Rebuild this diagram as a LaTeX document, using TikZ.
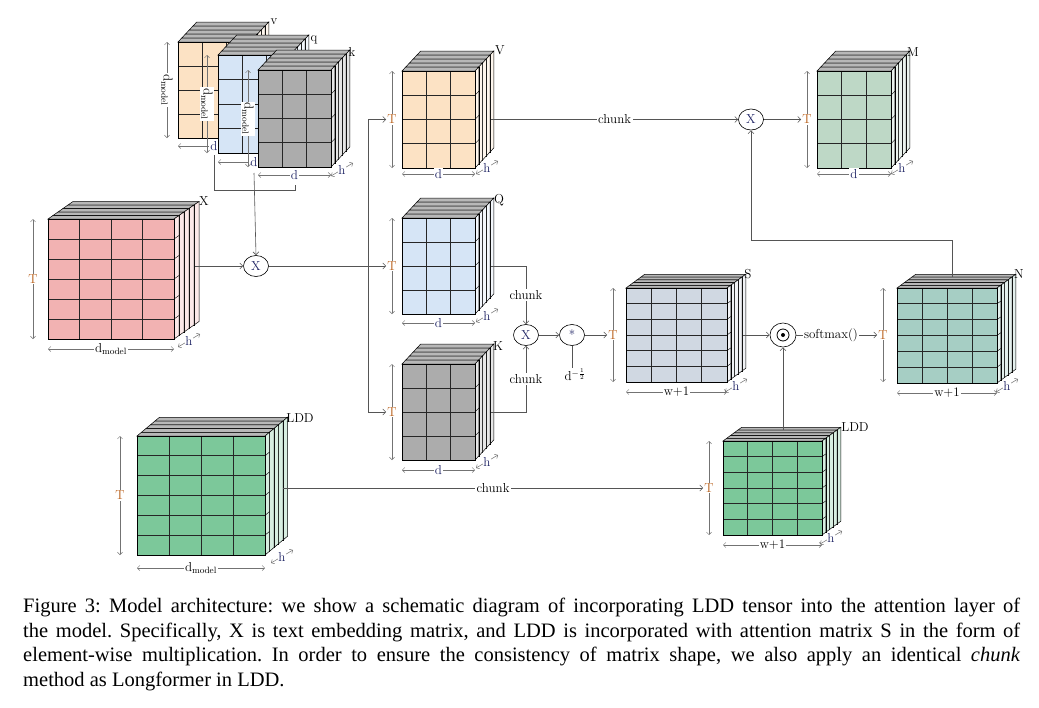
\documentclass[tikz,border=0pt]{standalone}
\usepackage{fontspec}
\newfontfamily\capfont{Liberation Serif}
\usetikzlibrary{arrows.meta,shapes.geometric,calc}
\definecolor{corange}{RGB}{252,226,196}
\definecolor{cblue}{RGB}{214,229,246}
\definecolor{cgray}{RGB}{172,172,172}
\definecolor{cpink}{RGB}{242,178,178}
\definecolor{cS}{RGB}{208,216,226}
\definecolor{cN}{RGB}{166,206,196}
\definecolor{cM}{RGB}{190,216,198}
\definecolor{cL}{RGB}{124,200,154}
\definecolor{cT}{RGB}{185,95,25}
\definecolor{cnavy}{RGB}{30,35,100}
\definecolor{cline}{RGB}{85,85,85}
\newcommand{\tblk}[9]{%
  \pgfmathsetmacro\tbtx{#8/4}%
  \pgfmathsetmacro\tbty{#9/4}%
  \foreach \k in {4,3,2,1,0}{%
    \pgfmathsetmacro\tbsx{#8*\k/4}%
    \pgfmathsetmacro\tbsy{#9*\k/4}%
    \begin{scope}[shift={(\tbsx,\tbsy)}]
      \filldraw[fill=black!28,draw=black,line width=0.5pt] (#1,#2) -- (#3,#2) -- ++(\tbtx,\tbty) -- ++({#1-#3},0) -- cycle;
      \filldraw[fill=#7!30!white,draw=black,line width=0.5pt] (#3,#2) -- (#3,#4) -- ++(\tbtx,\tbty) -- ++(0,{#2-#4}) -- cycle;
      \filldraw[fill=#7,draw=black,line width=0.5pt] (#1,#2) rectangle (#3,#4);
    \end{scope}}%
  \pgfmathsetmacro\tbcw{(#3-#1)/#5}%
  \pgfmathsetmacro\tbrh{(#4-#2)/#6}%
  \pgfmathtruncatemacro\tbnc{#5-1}%
  \pgfmathtruncatemacro\tbnr{#6-1}%
  \foreach \i in {1,...,\tbnc}{\draw[line width=0.8pt,draw=black!85] ({#1+\i*\tbcw},#2) -- ({#1+\i*\tbcw},#4);}%
  \foreach \i in {1,...,\tbnr}{\draw[line width=0.8pt,draw=black!85] (#1,{#2+\i*\tbrh}) -- (#3,{#2+\i*\tbrh});
     \draw[line width=0.4pt] (#3,{#2+\i*\tbrh}) -- ++(\tbtx,\tbty);}%
  \draw[line width=0.8pt] (#1,#2) rectangle (#3,#4);
}
\newcommand{\hdim}[2]{\draw[dimarr] ({#1-12},{#2+6}) -- node[hl]{h} ({#1+10},{#2-7});}
\tikzset{
  dimarr/.style={{Straight Barb[length=2.5pt]}-{Straight Barb[length=2.5pt]},draw=black!55,line width=0.5pt},
  dl/.style={fill=white,inner sep=1pt,font=\fontsize{13}{13}\selectfont},
  hl/.style={fill=white,inner sep=0.3pt,text=cnavy,font=\fontsize{13}{13}\selectfont},
  conn/.style={draw=cline,line width=0.6pt,-{Straight Barb[length=3pt]}},
  plain/.style={draw=cline,line width=0.6pt},
  op/.style={ellipse,draw=black,line width=0.6pt,fill=white,minimum width=25pt,minimum height=21pt,inner sep=0pt,text=cnavy,font=\fontsize{13}{13}\selectfont},
  tl/.style={font=\fontsize{13}{13}\selectfont,inner sep=1pt},
  cl/.style={fill=white,inner sep=1.5pt,font=\fontsize{13}{13}\selectfont}
}
\begin{document}
\begin{tikzpicture}[x=1pt,y=-1pt]
\useasboundingbox (0,0) rectangle (1039,707);
\fill[white] (0,0) rectangle (1039,707);

% v q k stack
\tblk{178}{42}{250}{138}{3}{4}{corange}{15}{-16}
\node[tl] (lv) at (274,22) {v};
\draw[dimarr] (167,42) -- node[dl,rotate=-90,text=black] {d$_{\mathrm{model}}$} (167,138);
\draw[dimarr] (178,146) -- node[dl,text=cnavy] {d} (250,146);
\tblk{218}{55}{290}{153}{3}{4}{cblue}{15}{-16}
\node[tl] (lq) at (314,40) {q};
\draw[dimarr] (207,55) -- node[dl,rotate=-90,text=black] {d$_{\mathrm{model}}$} (207,153);
\draw[dimarr] (218,162) -- node[dl,text=cnavy] {d} (290,162);
\tblk{258}{70}{331}{167}{3}{4}{cgray}{15}{-16}
\node[tl] (lk) at (352,52) {k};
\draw[dimarr] (248,70) -- node[dl,rotate=-90,text=black] {d$_{\mathrm{model}}$} (248,167);
\draw[dimarr] (258,175) -- node[dl,text=cnavy] {d} (331,175);
\hdim{343}{170}
\coordinate (br1) at (214,155);
\coordinate (br2) at (295,185);
\draw[plain] (br1) -- (214,190) -- (295,190) -- (br2);
\coordinate (kdown) at (254,173);

% X
\tblk{48}{219}{174}{339}{4}{6}{cpink}{20}{-14}
\node[tl] (lX) at (204,201) {X};
\draw[dimarr] (33,219) -- node[dl,text=cT] (TX) {T} (33,339);
\draw[dimarr] (48,349) -- node[dl] {d$_{\mathrm{model}}$} (174,349);
\hdim{190}{341}
\coordinate (Xout) at (195,266);
\node[op] (opA) at (256,266) {X};

% V Q K
\tblk{402}{71}{475}{168}{3}{4}{corange}{15}{-16}
\node[tl] (lV) at (500,50) {V};
\draw[dimarr] (392,71) -- node[dl,text=cT] (TV) {T} (392,168);
\draw[dimarr] (402,174) -- node[dl,text=cnavy] {d} (475,174);
\hdim{488}{168}
\coordinate (Vout) at (491,119.5);

\tblk{402}{218}{475}{314}{3}{4}{cblue}{15}{-16}
\node[tl] (lQ) at (499,200) {Q};
\draw[dimarr] (392,218) -- node[dl,text=cT] (TQ) {T} (392,314);
\draw[dimarr] (402,323) -- node[dl,text=cnavy] {d} (475,323);
\hdim{488}{316}
\coordinate (Qout) at (491,266);

\tblk{402}{364}{475}{460}{3}{4}{cgray}{15}{-16}
\node[tl] (lK) at (498,346) {K};
\draw[dimarr] (392,364) -- node[dl,text=cT] (TK) {T} (392,460);
\draw[dimarr] (402,470) -- node[dl,text=cnavy] {d} (475,470);
\hdim{488}{462}
\coordinate (Kout) at (491,412);

% M
\tblk{817}{71}{891}{168}{3}{4}{cM}{15}{-16}
\node[tl] (lM) at (913,52) {M};
\draw[dimarr] (807,71) -- node[dl,text=cT] (TM) {T} (807,168);
\draw[dimarr] (817,174) -- node[dl,text=cnavy] {d} (891,174);
\hdim{903}{168}

% S
\tblk{626}{288}{727}{382}{4}{6}{cS}{15}{-11}
\node[tl] (lS) at (748,274) {S};
\draw[dimarr] (613,288) -- node[dl,text=cT] (TS) {T} (613,382);
\draw[dimarr] (626,392) -- node[dl] {w+1} (727,392);
\hdim{737}{386}
\coordinate (Sout) at (743,335);

% N
\tblk{897}{288}{997}{383}{4}{6}{cN}{15}{-11}
\node[tl] (lN) at (1019,274) {N};
\draw[dimarr] (883,288) -- node[dl,text=cT] (TN) {T} (883,382);
\draw[dimarr] (897,393) -- node[dl] {w+1} (997,393);
\hdim{1008}{386}
\coordinate (Ntop) at (952,277);

% LDD
\tblk{137}{436}{265}{555}{4}{6}{cL}{18}{-15}
\node[tl] (lL) at (300,418) {LDD};
\draw[dimarr] (120,436) -- node[dl,text=cT] (TL) {T} (120,555);
\draw[dimarr] (137,568) -- node[dl] {d$_{\mathrm{model}}$} (265,568);
\hdim{283}{557}
\coordinate (Lout) at (283,488);

% LDD2
\tblk{723}{441}{822}{535}{4}{6}{cL}{15}{-11}
\node[tl] (lL2) at (855,427) {LDD};
\draw[dimarr] (709,441) -- node[dl,text=cT] (TL2) {T} (709,535);
\draw[dimarr] (723,545) -- node[dl] {w+1} (822,545);
\hdim{832}{538}
\coordinate (L2top) at (783,430);

% operators
\node[op] (opB) at (526,335) {X};
\node[op] (opC) at (572,335) {*};
\node[op,minimum width=26pt,minimum height=24pt] (opD) at (783,335) {};
\draw[line width=0.8pt] (opD.center) circle (6pt);
\fill (opD.center) circle (2pt);
\node[op] (opE) at (751,119.5) {X};
\node[inner sep=1pt,font=\fontsize{13}{13}\selectfont] (dsc) at (575,375) {d$^{-\frac{1}{2}}$};
\node[inner sep=1pt,font=\fontsize{13}{13}\selectfont] (smax) at (831,335) {softmax()};

% connectors
\draw[conn] (kdown) -- (opA.north);
\draw[conn] (Xout) -- (opA.west);
\draw[conn] (opA.east) -- (TQ.west);
\coordinate (brn) at (368,266);
\draw[conn] (brn) |- (TV.west);
\draw[conn] (brn) |- (TK.west);
\draw[conn] (Vout) -- node[cl] (ch1) {chunk} (opE.west);
\draw[conn] (opE.east) -- (TM.west);
\draw[conn] (Qout) -- (526,266) -- node[cl,pos=0.5] (ch2) {chunk} (opB.north);
\draw[conn] (Kout) -- (526,412) -- node[cl,pos=0.5] (ch3) {chunk} (opB.south);
\draw[conn] (opB.east) -- (opC.west);
\draw[plain] (opC.south) -- (dsc.north -| opC.south);
\draw[conn] (opC.east) -- (TS.west);
\draw[conn] (Sout) -- (opD.west);
\draw[plain] (opD.east) -- (smax.west);
\draw[conn] (smax.east) -- (TN.west);
\draw[conn] (Ntop) -- (952,240) -| (opE.south);
\draw[conn] (Lout) -- node[cl] (ch4) {chunk} (TL2.west);
\draw[conn] (L2top) -- (opD.south);

% caption
\node[anchor=north west,text width=997pt,align=justify,inner sep=0pt,font=\capfont\fontsize{20.5}{24.5}\selectfont\frenchspacing] (cap) at (23,598) {Figure 3: Model architecture: we show a schematic diagram of incorporating LDD tensor into the attention layer of\linebreak the model. Specifically, X is text embedding matrix, and LDD is incorporated with attention matrix S in the form of\linebreak element-wise multiplication. In order to ensure the consistency of matrix shape, we also apply an identical \textit{chunk}\linebreak method as Longformer in LDD.};
\end{tikzpicture}
\end{document}
